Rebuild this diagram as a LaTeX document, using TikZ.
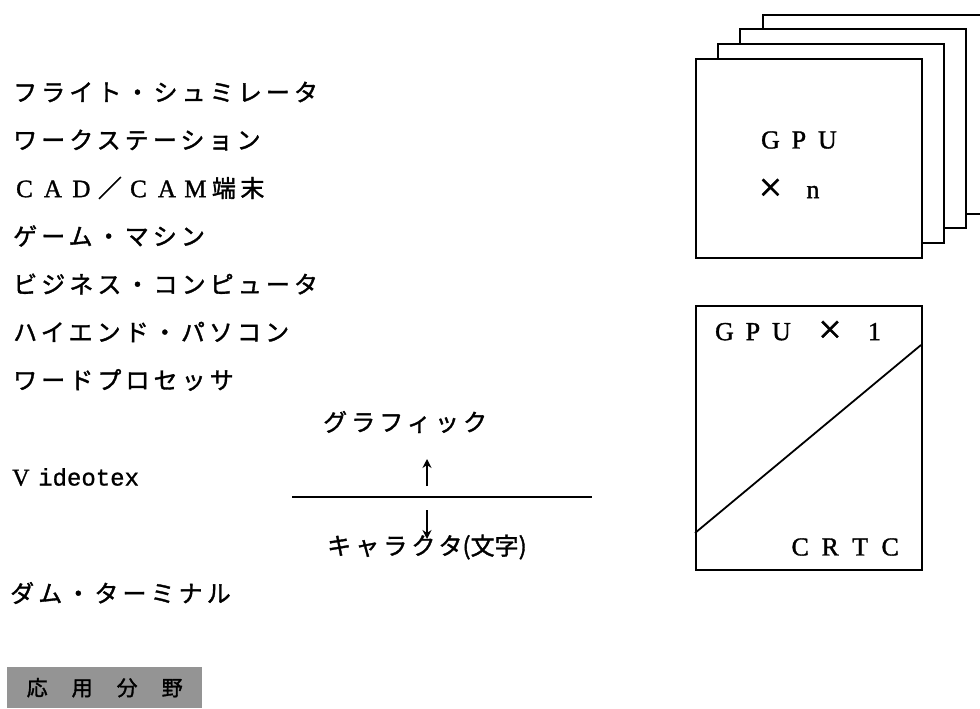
\documentclass[tikz,border=0pt]{standalone}
\usepackage{fontspec}
\usepackage{graphicx}
\setmainfont{Liberation Serif}
\newfontfamily\capfont[FakeBold=1.2]{Liberation Serif}
\newfontfamily\jpfont[FakeBold=1.5]{Noto Sans CJK JP}
\newfontfamily\jpwide[LetterSpace=17,FakeBold=1.5]{Noto Sans CJK JP}
\newfontfamily\monofont[FakeBold=1]{Liberation Mono}
\usetikzlibrary{arrows.meta}
\newcommand{\zw}[2][28.5pt]{\makebox[#1]{#2}}
\newcommand{\jz}[1]{\zw{\jpfont\fontsize{24}{28}\selectfont #1}}
\newcommand{\bigx}{\raisebox{-3pt}{\scalebox{1.6}{\texttimes}}}

\begin{document}
\begin{tikzpicture}[x=1pt,y=-1pt,
  font=\jpwide\fontsize{24}{28}\selectfont,>={Stealth[length=9pt,width=9pt]},
  item/.style={anchor=west,inner sep=0pt},
  card/.style={draw,line width=1.8pt,fill=white,anchor=north west,minimum width=226pt,minimum height=199pt,inner sep=0pt},
  crtbox/.style={draw,line width=1.8pt,anchor=north west,minimum width=226pt,minimum height=264pt,inner sep=0pt},
  letters/.style={anchor=west,inner sep=0pt,font=\capfont\fontsize{26}{30}\selectfont},
  tag/.style={fill=black!42,anchor=north west,minimum width=195pt,minimum height=41pt,inner sep=0pt,font=\jpfont\fontsize{21}{24}\selectfont},
  divider/.style={line width=2.5pt},
  arr/.style={->,line width=1.6pt}
]
\useasboundingbox (0,0) rectangle (980,709);
% application fields on the left, GPU configurations on the right
\node[item] (flight) at (13,92) {フライト・シュミレータ};
\node[item] (ws) at (13,140) {ワークステーション};
\node[item,font=\capfont\fontsize{25}{28}\selectfont] (cad) at (10,188) {\zw{C}\zw{A}\zw{D}\jz{／}\zw{C}\zw{A}\zw{M}\jz{端}\jz{末}};
\node[item] (game) at (13,236) {ゲーム・マシン};
\node[item] (biz) at (13,284) {ビジネス・コンピュータ};
\node[item] (pc) at (13,332) {ハイエンド・パソコン};
\node[item] (wp) at (13,380) {ワードプロセッサ};
\node[item,font=\monofont\fontsize{24}{28}\selectfont] (vtx) at (12,477) {\makebox[26pt][l]{\capfont V}ideotex};
\node[item] (dumb) at (10,593) {ダム・ターミナル};
\node[tag] (field) at (7,667) {応\hspace{24pt}用\hspace{24pt}分\hspace{24pt}野};

\node[item] (graph) at (323,422) {グラフィック};
\node[item] (chr) at (327,547) {キャラクタ{\jpfont (文字)}};
\coordinate (lineL) at (292,497);
\coordinate (lineR) at (592,497);
\draw[divider] (lineL) -- (lineR);
\coordinate (upS) at (427,486);
\coordinate (upE) at (427,459);
\coordinate (dnS) at (427,510);
\coordinate (dnE) at (427,539);
\draw[arr] (upS) -- (upE);
\draw[arr] (dnS) -- (dnE);

\node[card] (gpu4) at (762,14) {};
\node[card] (gpu3) at (739,28) {};
\node[card] (gpu2) at (717,43) {};
\node[card] (gpu1) at (695,58) {};
\node[letters] (gpuname) at (756,140) {\zw{G}\zw{P}\zw{U}};
\node[letters] (gpun) at (756,190) {\zw{\bigx}\hspace{14pt}\zw{n}};

\node[crtbox] (gpuone) at (695,305) {};
\coordinate (diagL) at (695,533);
\coordinate (diagR) at (921,345);
\draw[line width=1.8pt] (diagL) -- (diagR);
\node[letters] (onename) at (710,332) {\zw{G}\zw{P}\zw{U}\hspace{20pt}\zw{\bigx}\hspace{16pt}\zw{1}};
\node[letters] (crtc) at (785,547) {\zw[30pt]{C}\zw[30pt]{R}\zw[30pt]{T}\zw[30pt]{C}};
\end{tikzpicture}
\end{document}
